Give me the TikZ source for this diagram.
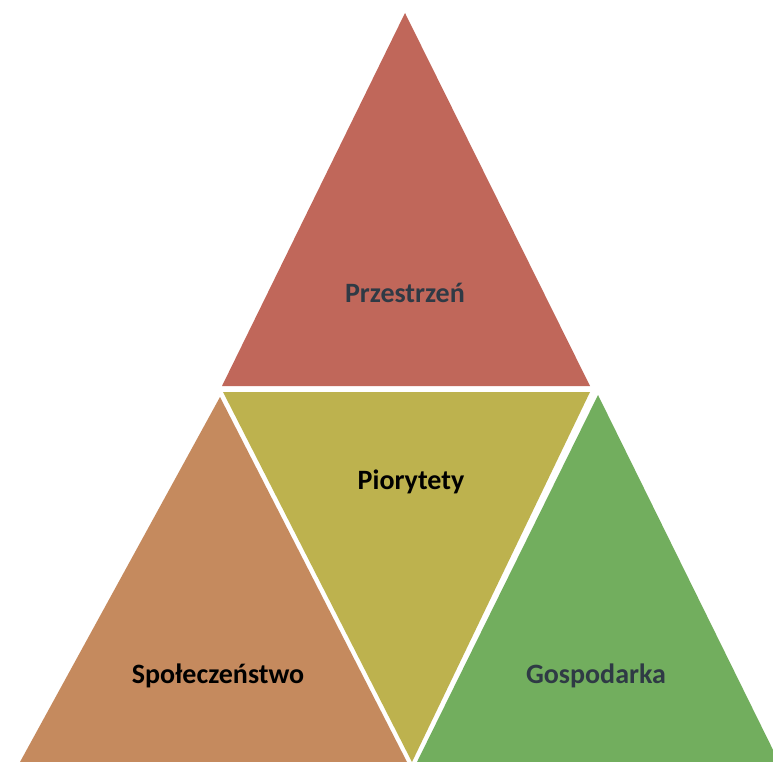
\documentclass[tikz,border=0pt]{standalone}
\usepackage{fontspec}
\setmainfont{Carlito}
\definecolor{przred}{HTML}{C0675A}
\definecolor{prioyel}{HTML}{BDB24E}
\definecolor{spolor}{HTML}{C58A5E}
\definecolor{gospgr}{HTML}{72AE5E}
\definecolor{slate}{HTML}{2F3A45}
\begin{document}
\begin{tikzpicture}[x=1pt, y=-1pt,
        label/.style = {font=\fontsize{28}{34}\selectfont\bfseries, inner sep=0pt}]
        \fill[white] (0,0) rectangle (773,762);
        \useasboundingbox (0,0) rectangle (773,762);
        \fill[przred] (405,13) -- (590,386) -- (222,386) -- cycle;
        \fill[prioyel] (223,392) -- (590,392) -- (412,762) -- cycle;
        \fill[spolor] (220,397) -- (407,762) -- (20,762) -- cycle;
        \fill[gospgr] (598,395) -- (779,762) -- (417,762) -- cycle;
        \node[label, text=slate] (przestrzen) at (405,293) {Przestrzeń};
        \node[label] (priorytety) at (411,482) {Piorytety};
        \node[label] (spoleczenstwo) at (218,676) {Społeczeństwo};
        \node[label, text=slate] (gospodarka) at (596,676) {Gospodarka};
\end{tikzpicture}
\end{document}
